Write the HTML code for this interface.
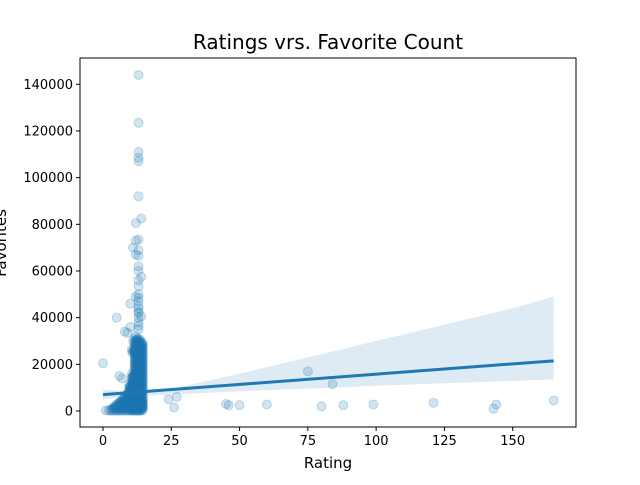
<!DOCTYPE html>
<html><head><meta charset="utf-8"><style>
body{margin:0;background:#fff;font-family:"Liberation Sans","DejaVu Sans",sans-serif}
svg text{font-family:"DejaVu Sans","Liberation Sans",sans-serif}
</style></head><body>
<svg id="chart" width="640" height="480" xmlns="http://www.w3.org/2000/svg">
<rect width="640" height="480" fill="#fff"/>
<text x="328" y="49" font-size="20" text-anchor="middle">Ratings vrs. Favorite Count</text>
<g id="band"></g><g id="pts"></g><g id="reg"></g><g id="axes"></g>
<text x="328" y="468" font-size="15" text-anchor="middle">Rating</text>
<text transform="translate(6,243) rotate(-90)" font-size="15" text-anchor="middle">Favorites</text>
</svg>
<script>
const xTicks=[0,25,50,75,100,125,150];
const yTicks=[0,20000,40000,60000,80000,100000,120000,140000];
const outX=[0,1,2,5,24,26,27,45,46,50,60,75,80,84,88,99,121,143,144,165,6,7,8,9,10,12,14,13,11,12,13,12,14,10,13,13,13,13,13,13,13,13,13,13,13,13,13,13,13,13,13,13,13,13,13,14,12,11,13,12];
const outY=[20500,200,300,40000,5000,1500,6000,3000,2500,2500,2800,17000,2000,11500,2500,2800,3500,1000,2800,4500,15000,14000,34000,33500,36000,80500,82500,144000,70000,73000,123500,67000,57500,46000,111000,108500,107000,92000,73500,69000,66500,62000,60000,56000,53500,50000,48500,47000,44000,42000,40000,38000,36500,35000,42500,40500,49000,30000,45000,32000];
const coreX=[3,4,5,6,7,8,9,10,11,12,13,14,4,5,6,7,8,9,10,11,12,13,14,5,6,7,8,9,10,11,12,13,14,6,7,8,9,10,11,12,13,14,7,8,9,10,11,12,13,14,8,9,10,11,12,13,14,9,10,11,12,13,14,10,11,12,13,14,10,11,12,13,14,11,12,13,14,11,12,13,14,11,12,13,14,12,13,14,12,13,14,12,13,14,12,13,14,12,13,14,12,13,14,11,12,13,14,12,13,14,12,13,14,12,13];
const coreY=[500,500,500,500,500,500,500,500,500,500,500,500,1500,1500,1500,1500,1500,1500,1500,1500,1500,1500,1500,2500,2500,2500,2500,2500,2500,2500,2500,2500,2500,3500,3500,3500,3500,3500,3500,3500,3500,3500,4500,4500,4500,4500,4500,4500,4500,4500,6000,6000,6000,6000,6000,6000,6000,7500,7500,7500,7500,7500,7500,9000,9000,9000,9000,9000,10500,10500,10500,10500,10500,12000,12000,12000,12000,13500,13500,13500,13500,15000,15000,15000,15000,16500,16500,16500,18000,18000,18000,19500,19500,19500,21000,21000,21000,22500,22500,22500,24000,24000,24000,25500,25500,25500,25500,27000,27000,27000,28500,28500,28500,30000,30000];
const regX=[0,165];
const regY=[7000,21500];
const ciX=[0,12,25,50,75,100,125,150,165];
const ciLo=[5000,6500,7000,8400,9600,10800,11900,12900,13500];
const ciHi=[9200,8200,9500,16000,23000,30000,37000,44000,49000];
const L=80,R=576,T=58,B=427;
const sx=v=>103+v*(512.7-103)/150;
const sy=v=>411-v*(411-84.3)/140000;
const NS="http://www.w3.org/2000/svg";
function mk(t,a,p){const e=document.createElementNS(NS,t);for(const k in a)e.setAttribute(k,a[k]);p.appendChild(e);return e;}
const band=document.getElementById('band'),pts=document.getElementById('pts'),reg=document.getElementById('reg'),ax=document.getElementById('axes');
let d='M'+ciX.map((x,i)=>sx(x)+','+sy(ciHi[i])).join('L')+'L'+ciX.slice().reverse().map((x,j)=>{const i=ciX.length-1-j;return sx(x)+','+sy(ciLo[i]);}).join('L')+'Z';
const bp=mk('path',{d:d,fill:'#1f77b4','fill-opacity':0.15},band);


function dot(x,y){const c=mk('circle',{cx:sx(x),cy:sy(y),r:4.5,fill:'#1f77b4','fill-opacity':0.2,stroke:'#1f77b4','stroke-opacity':0.25,'stroke-width':1},pts);

}
outX.forEach((x,i)=>dot(x,outY[i]));
coreX.forEach((x,i)=>{dot(x,coreY[i]);dot(x+0.5,coreY[i]+700);dot(x-0.3,coreY[i]-400);});
coreX.forEach((x,i)=>{if(x>=10){dot(x+0.2,coreY[i]+300);dot(x-0.4,coreY[i]+900);dot(x+0.6,coreY[i]-200);}});
const rl=mk('line',{x1:sx(regX[0]),y1:sy(regY[0]),x2:sx(regX[1]),y2:sy(regY[1]),stroke:'#1f77b4','stroke-width':3},reg);


const fr=mk('rect',{x:L,y:T,width:R-L,height:B-T,fill:'none',stroke:'#000','stroke-width':1},ax);


xTicks.forEach(v=>{const x=sx(v);mk('line',{x1:x,x2:x,y1:B,y2:B+4,stroke:'#000'},ax);
const t=mk('text',{x:x,y:B+18,'font-size':13,'text-anchor':'middle'},ax);t.textContent=v;

});
yTicks.forEach(v=>{const y=sy(v);mk('line',{x1:L-4,x2:L,y1:y,y2:y,stroke:'#000'},ax);
const t=mk('text',{x:L-7,y:y+4.5,'font-size':13,'text-anchor':'end'},ax);t.textContent=v;

});
</script>
</body></html>
